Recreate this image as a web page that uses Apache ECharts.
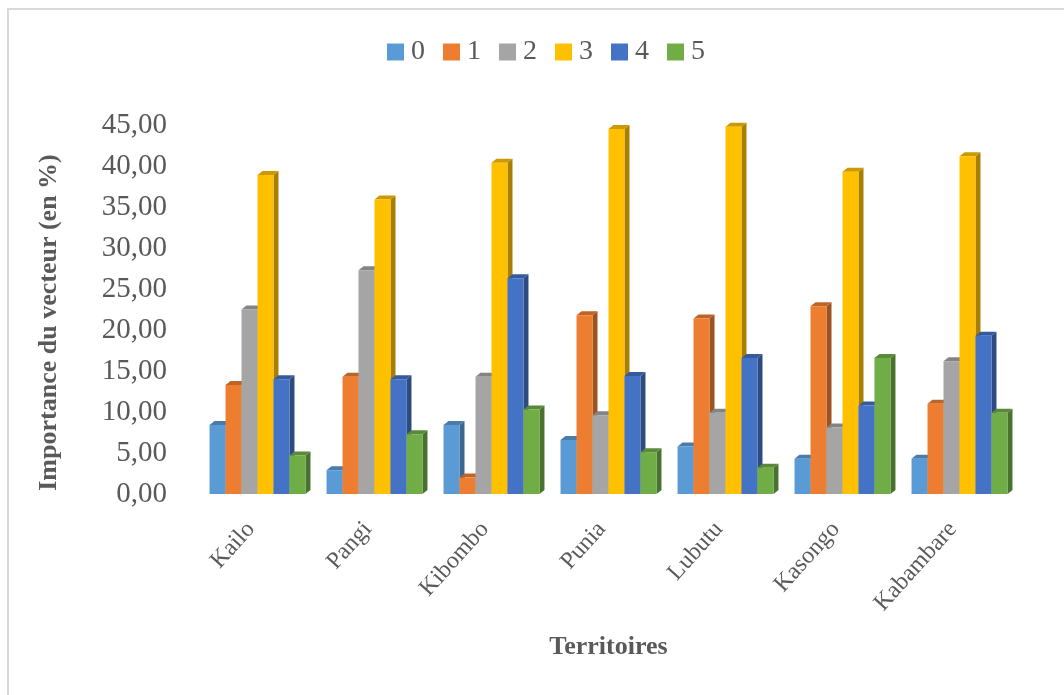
<!DOCTYPE html>
<html>
<head>
<meta charset="utf-8">
<script src="https://cdn.jsdelivr.net/npm/echarts@6/dist/echarts.min.js"></script>
<style>
  html, body { margin: 0; padding: 0; background: #fff; }
  #chart { width: 1064px; height: 695px; }
</style>
</head>
<body>
<div id="chart"></div>
<script>
// territoires
const territoires = ['Kailo', 'Pangi', 'Kibombo', 'Punia', 'Lubutu', 'Kasongo', 'Kabambare'];
// importance du vecteur (en %) par classe
const classe0 = [8.4, 2.9, 8.4, 6.6, 5.8, 4.3, 4.3];
const classe1 = [13.3, 14.3, 2.0, 21.8, 21.4, 22.9, 11.0];
const classe2 = [22.5, 27.3, 14.3, 9.6, 9.9, 8.1, 16.2];
const classe3 = [38.9, 35.9, 40.4, 44.5, 44.8, 39.3, 41.2];
const classe4 = [14.0, 14.0, 26.3, 14.4, 16.6, 10.8, 19.3];
const classe5 = [4.7, 7.3, 10.3, 5.1, 3.2, 16.6, 9.9];
const yTicks = [0, 5, 10, 15, 20, 25, 30, 35, 40, 45];

const seriesNames = ['0', '1', '2', '3', '4', '5'];
const seriesData = [classe0, classe1, classe2, classe3, classe4, classe5];
const colors = ['#5B9BD5', '#ED7D31', '#A5A5A5', '#FFC000', '#4472C4', '#70AD47'];

const font = '"Liberation Serif", "Times New Roman", serif';
const nbSeries = seriesNames.length;
const groupRatio = 0.82;
const dx = 5, dy = 4; // profondeur 3D

// assombrir une couleur hex
function shade(hex, k) {
  const n = parseInt(hex.slice(1), 16);
  const r = Math.round(((n >> 16) & 255) * k);
  const g = Math.round(((n >> 8) & 255) * k);
  const b = Math.round((n & 255) * k);
  return 'rgb(' + r + ',' + g + ',' + b + ')';
}

// colonne 3D : face avant, cote droit, dessus
function render3d(si) {
  return function (params, api) {
    const cat = api.value(0), val = api.value(1);
    const base = api.coord([cat, 0]);
    const top = api.coord([cat, val]);
    const band = api.size([1, 0])[0];
    const bw = band * groupRatio / nbSeries;
    const x0 = base[0] - band * groupRatio / 2 + si * bw;
    const c = colors[si];
    return {
      type: 'group',
      children: [
        {
          type: 'polygon',
          shape: { points: [[x0 + bw, top[1]], [x0 + bw + dx, top[1] - dy], [x0 + bw + dx, base[1] - dy], [x0 + bw, base[1]]] },
          style: { fill: shade(c, 0.66) }
        },
        {
          type: 'polygon',
          shape: { points: [[x0, top[1]], [x0 + dx, top[1] - dy], [x0 + bw + dx, top[1] - dy], [x0 + bw, top[1]]] },
          style: { fill: shade(c, 0.8) }
        },
        {
          type: 'rect',
          shape: { x: x0, y: top[1], width: bw, height: base[1] - top[1] },
          style: { fill: c }
        }
      ]
    };
  };
}

const chart = echarts.init(document.getElementById('chart'));
chart.setOption({
  backgroundColor: '#fff',
  animation: false,
  textStyle: { fontFamily: font },
  graphic: [{
    type: 'rect',
    shape: { x: 8, y: 9, width: 1200, height: 900 },
    style: { fill: 'none', stroke: '#d9d9d9', lineWidth: 2 },
    silent: true
  }],
  legend: {
    data: seriesNames,
    top: 33,
    left: 382,
    icon: 'rect',
    itemWidth: 17,
    itemHeight: 17,
    itemGap: 18,
    textStyle: { fontFamily: font, fontSize: 28, color: '#595959', padding: [0, 0, 0, 2] }
  },
  grid: { left: 199, right: 46, top: 125, bottom: 201 },
  xAxis: {
    type: 'category',
    data: territoires,
    name: 'Territoires',
    nameLocation: 'middle',
    nameGap: 140,
    nameTextStyle: { fontFamily: font, fontSize: 26, fontWeight: 'bold', color: '#595959' },
    axisLine: { show: false },
    axisTick: { show: false },
    axisLabel: {
      rotate: 48,
      margin: 24,
      padding: [0, 10, 0, 0],
      fontFamily: font,
      fontSize: 24,
      color: '#595959'
    }
  },
  yAxis: {
    type: 'value',
    min: yTicks[0],
    max: yTicks[yTicks.length - 1],
    interval: 5,
    name: 'Importance du vecteur (en %)',
    nameLocation: 'middle',
    nameGap: 137,
    nameTextStyle: { fontFamily: font, fontSize: 26, fontWeight: 'bold', color: '#595959', padding: [0, 26, 0, 0] },
    axisLine: { show: false },
    axisTick: { show: false },
    splitLine: { show: false },
    axisLabel: {
      margin: 32,
      fontFamily: font,
      fontSize: 29,
      color: '#595959',
      formatter: v => v.toFixed(2).replace('.', ',')
    }
  },
  series: seriesNames.map((name, si) => ({
    name: name,
    type: 'custom',
    renderItem: render3d(si),
    itemStyle: { color: colors[si] },
    encode: { x: 0, y: 1 },
    data: seriesData[si].map((v, i) => [i, v])
  }))
});
</script>
</body>
</html>
